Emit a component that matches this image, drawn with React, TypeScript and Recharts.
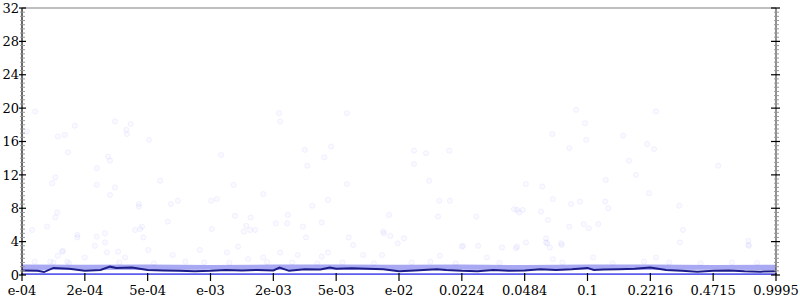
import React from "react";
import {
  ComposedChart,
  XAxis,
  YAxis,
  Line,
  Area,
  Scatter,
  ReferenceLine,
} from "recharts";

// x tick labels (evenly spaced positions 0..12)
const xLabels = [
  "e-04", "2e-04", "5e-04", "e-03", "2e-03", "5e-03", "e-02",
  "0.0224", "0.0484", "0.1", "0.2216", "0.4715", "0.9995",
];
const xTicks = [0, 1, 2, 3, 4, 5, 6, 7, 8, 9, 10, 11, 12];
const yTicks = Array.from({ length: 65 }, (_, i) => i * 0.5);
const yMajorStep = 4;

// moving median line
const lineX = [
  0, 0.25, 0.35, 0.5, 0.75, 1.0, 1.25, 1.4, 1.5, 1.75, 2.0, 2.25, 2.5, 2.75,
  3.0, 3.25, 3.5, 3.75, 4.0, 4.1, 4.25, 4.5, 4.75, 4.9, 5.0, 5.25, 5.5, 5.75,
  6.0, 6.25, 6.6, 6.75, 7.0, 7.25, 7.5, 7.75, 8.0, 8.25, 8.5, 8.75, 9.0, 9.1,
  9.25, 9.5, 9.75, 10.0, 10.25, 10.5, 10.75, 11.0, 11.25, 11.5, 11.75, 12.0,
];
const lineY = [
  0.55, 0.5, 0.35, 0.85, 0.75, 0.5, 0.6, 1.0, 0.85, 0.9, 0.6, 0.55, 0.5, 0.45,
  0.5, 0.6, 0.55, 0.6, 0.55, 0.9, 0.5, 0.7, 0.65, 0.9, 0.75, 0.8, 0.75, 0.7,
  0.45, 0.55, 0.7, 0.6, 0.5, 0.45, 0.6, 0.5, 0.55, 0.7, 0.6, 0.7, 0.85, 0.6,
  0.65, 0.7, 0.75, 0.9, 0.6, 0.5, 0.4, 0.5, 0.55, 0.45, 0.4, 0.45,
];

// dense bands of points near zero
const bandX = [0, 1, 2, 3, 4, 5, 6, 7, 8, 9, 10, 11, 12];
const upperLo = [0.6, 0.62, 0.6, 0.62, 0.6, 0.62, 0.6, 0.62, 0.6, 0.62, 0.6, 0.62, 0.6];
const upperHi = [1.25, 1.22, 1.25, 1.2, 1.25, 1.25, 1.22, 1.25, 1.2, 1.25, 1.25, 1.2, 1.22];
const lowerLo = [0, 0, 0, 0, 0, 0, 0, 0, 0, 0, 0, 0, 0];
const lowerHi = [0.22, 0.22, 0.22, 0.22, 0.22, 0.22, 0.22, 0.22, 0.22, 0.22, 0.22, 0.22, 0.22];

// scattered individual samples
const ptX = [
  0.21, 0.08, 0.16, 0.4, 0.48, 0.53, 0.53, 0.56, 0.57, 0.68, 0.73, 0.84, 0.88, 0.88,
  0.57, 0.65, 1.19, 1.32, 1.19, 1.19, 1.37, 1.4, 1.4, 1.48, 1.48, 1.0, 1.16, 0.45,
  0.72, 1.73, 1.66, 1.67, 2.02, 3.17, 4.09, 4.11, 5.17, 4.5, 4.92, 4.81, 4.54, 2.2,
  3.37, 3.84, 5.17, 1.86, 1.86, 2.37, 2.48, 3.01, 3.1, 4.87, 4.62, 2.32, 3.39, 3.64,
  4.23, 4.77, 4.04, 4.22, 4.47, 3.57, 3.53, 3.63, 3.71, 1.8, 1.91, 1.88, 1.93, 3.02,
  4.52, 5.2, 8.82, 8.96, 8.44, 8.98, 9.57, 8.71, 6.24, 6.43, 6.8, 6.24, 9.66, 9.77,
  6.48, 9.29, 8.02, 8.28, 6.64, 6.81, 8.45, 8.74, 8.88, 9.28, 9.33, 5.84, 6.62, 7.23,
  7.83, 7.88, 7.97, 7.91, 8.26, 8.37, 8.71, 8.94, 9.02, 9.17, 5.75, 5.76, 5.86, 6.08,
  5.98, 7.0, 7.26, 7.64, 7.86, 8.02, 8.34, 8.34, 8.4, 8.58, 6.65, 10.09, 9.95, 10.06,
  11.08, 9.98, 10.46, 10.52, 10.47, 11.56, 11.57, 10.09, 1.32, 0.64, 1.64, 1.35, 1.53, 2.01,
  2.4, 2.83, 3.26, 3.44, 3.6, 3.84, 4.11, 4.39, 5.27, 4.87, 4.77, 5.43, 5.73, 7.02,
  7.4, 7.88, 8.36, 8.59, 8.45, 9.09, 11.56,
  0.5, 0.75, 1.55, 2.1, 2.9, 3.3, 4.3, 4.7, 5.1, 5.6, 6.2, 6.9, 7.6, 8.6, 9.4,
  10.3, 10.8, 11.3, 11.7, 2.6, 0.2, 6.5, 9.9, 3.9,
];
const ptY = [
  19.6, 17.2, 5.4, 5.8, 11.0, 11.7, 6.9, 7.5, 16.6, 16.8, 14.7, 17.9, 4.8, 4.5,
  2.3, 2.9, 4.6, 5.0, 12.8, 10.8, 14.2, 13.7, 9.6, 10.5, 18.4, 2.1, 3.5, 1.6,
  1.6, 18.1, 17.4, 16.9, 16.2, 14.4, 19.4, 18.4, 19.4, 15.0, 15.4, 14.1, 13.1, 11.3,
  10.8, 9.7, 10.9, 8.5, 8.2, 8.5, 8.9, 8.9, 9.1, 9.0, 8.3, 6.4, 7.1, 6.9,
  7.2, 6.3, 6.2, 6.2, 5.8, 5.9, 5.2, 5.4, 5.4, 5.4, 5.8, 5.5, 4.5, 5.5,
  4.5, 4.5, 19.8, 18.2, 16.9, 16.2, 16.7, 15.2, 14.9, 14.6, 14.9, 13.3, 13.7, 12.0,
  11.3, 11.4, 10.9, 10.6, 8.9, 8.9, 9.1, 8.5, 8.8, 8.8, 8.0, 7.2, 7.0, 7.0,
  7.9, 7.8, 7.8, 7.5, 7.6, 6.6, 5.8, 6.1, 5.6, 6.1, 5.2, 5.0, 4.7, 4.4,
  3.8, 3.4, 3.5, 3.3, 3.2, 3.9, 4.4, 3.9, 3.3, 3.8, 2.3, 19.6, 15.7, 15.1,
  13.1, 9.8, 8.3, 5.4, 3.9, 4.1, 3.5, 2.1, 3.9, 2.8, 2.1, 2.7, 2.8, 3.0,
  2.4, 3.0, 2.7, 3.4, 1.9, 2.1, 2.7, 2.4, 3.6, 2.7, 2.2, 2.4, 2.4, 3.5,
  2.1, 3.4, 3.8, 3.6, 1.9, 2.1, 3.6,
  1.5, 1.4, 1.5, 1.4, 1.5, 1.45, 1.5, 1.4, 1.5, 1.4, 1.5, 1.4, 1.45, 1.5, 1.4,
  1.5, 1.4, 1.5, 1.45, 1.6, 1.6, 1.6, 1.6, 1.55,
];

const lineData = lineX.map((x, i) => ({ x, y: lineY[i] }));
const bandData = bandX.map((x, i) => ({
  x,
  upper: [upperLo[i], upperHi[i]],
  lower: [lowerLo[i], lowerHi[i]],
}));
const pointData = ptX.map((x, i) => ({ x, y: ptY[i] }));

const FONT = "'DejaVu Serif', 'Liberation Serif', serif";

const LeftTick = (p: any) => {
  const v = p.payload.value;
  const major = v % yMajorStep === 0;
  if (!major) {
    return <line x1={p.x - 2} x2={p.x + 3} y1={p.y} y2={p.y} stroke="#999" strokeWidth={1} />;
  }
  return (
    <g>
      <line x1={p.x - 3} x2={p.x + 4} y1={p.y} y2={p.y} stroke="#000" strokeWidth={1.2} />
      <text
        x={p.x - 3}
        y={p.y}
        dy="0.36em"
        textAnchor="end"
        style={{ fontFamily: FONT, fontSize: 13 }}
        fill="#000"
      >
        {v}
      </text>
    </g>
  );
};
const RightTick = (p: any) => {
  const v = p.payload.value;
  const major = v % yMajorStep === 0;
  if (!major) {
    return <line x1={p.x - 2} x2={p.x + 3} y1={p.y} y2={p.y} stroke="#999" strokeWidth={1} />;
  }
  return <line x1={p.x - 5} x2={p.x + 4} y1={p.y} y2={p.y} stroke="#000" strokeWidth={1.2} />;
};
const XTick = (p: any) => (
  <g>
    <line x1={p.x} x2={p.x} y1={p.y - 2} y2={p.y + 6} stroke="#000" strokeWidth={1.2} />
    <text
      x={p.x}
      y={p.y + 20}
      textAnchor="middle"
      style={{ fontFamily: FONT, fontSize: 13 }}
      fill="#000"
    >
      {xLabels[p.payload.value]}
    </text>
  </g>
);

const Dot = (p: any) => (
  <circle
    cx={p.cx}
    cy={p.cy}
    r={2.6}
    fill="#4848ff"
    fillOpacity={0.035}
    stroke="#4848ff"
    strokeOpacity={0.06}
    strokeWidth={1}
  />
);

export default function App() {
  return (
    <div style={{ position: "absolute", left: 0, top: 0, background: "#fff" }}>
      <ComposedChart
        width={800}
        height={300}
        margin={{ top: 8, right: 23, bottom: 24, left: 21 }}
      >
        <XAxis
          dataKey="x"
          type="number"
          domain={[0, 12]}
          ticks={xTicks}
          height={1}
          axisLine={false}
          tickLine={false}
          tickSize={0}
          tickMargin={0}
          interval={0}
          tick={<XTick />}
          allowDataOverflow
        />
        <YAxis
          yAxisId="main"
          type="number"
          domain={[0, 32]}
          ticks={yTicks}
          width={1}
          axisLine={{ stroke: "#000", strokeWidth: 1.2 }}
          tickLine={false}
          tickSize={0}
          tickMargin={0}
          interval={0}
          tick={<LeftTick />}
          allowDataOverflow
        />
        <YAxis
          yAxisId="right"
          orientation="right"
          type="number"
          domain={[0, 32]}
          ticks={yTicks}
          width={1}
          axisLine={{ stroke: "#222", strokeWidth: 1 }}
          tickLine={false}
          tickSize={0}
          tickMargin={0}
          interval={0}
          tick={<RightTick />}
          allowDataOverflow
        />
        <ReferenceLine yAxisId="main" y={32} stroke="#aaa" strokeWidth={1.5} />
        <Area
          yAxisId="main"
          data={bandData}
          dataKey="upper"
          type="linear"
          stroke="none"
          fill="#a9a9f3"
          fillOpacity={1}
          isAnimationActive={false}
          dot={false}
          activeDot={false}
        />
        <Area
          yAxisId="main"
          data={bandData}
          dataKey="lower"
          type="linear"
          stroke="none"
          fill="#5c5cee"
          fillOpacity={1}
          isAnimationActive={false}
          dot={false}
          activeDot={false}
        />
        <Scatter
          yAxisId="main"
          data={pointData}
          dataKey="y"
          shape={<Dot />}
          isAnimationActive={false}
        />
        <Line
          yAxisId="main"
          data={lineData}
          dataKey="y"
          type="linear"
          stroke="#1c1c88"
          strokeWidth={2}
          dot={false}
          activeDot={false}
          isAnimationActive={false}
        />
      </ComposedChart>
    </div>
  );
}
